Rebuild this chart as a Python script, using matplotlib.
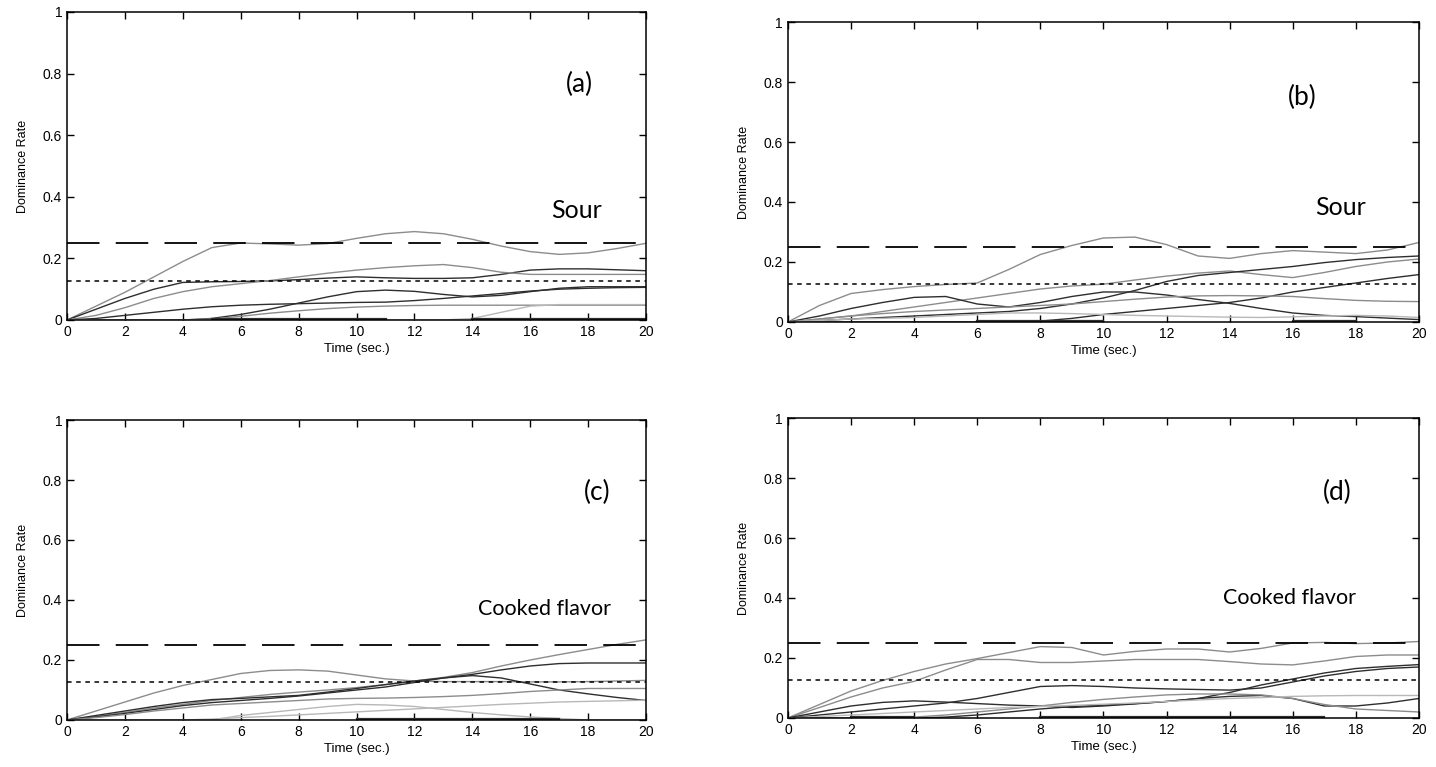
import numpy as np
import matplotlib.pyplot as plt

nan = np.nan
t = list(range(21))  # seconds

# ---- (a) Sour
a_g1 = [0, 0.045, 0.09, 0.14, 0.19, 0.235, 0.25, 0.247, 0.243, 0.248, 0.265, 0.28, 0.287, 0.28, 0.262, 0.24, 0.222, 0.213, 0.218, 0.232, 0.249]
a_d1 = [0, 0.035, 0.07, 0.1, 0.122, 0.124, 0.125, 0.127, 0.131, 0.136, 0.14, 0.137, 0.135, 0.135, 0.137, 0.148, 0.162, 0.166, 0.166, 0.163, 0.16]
a_g2 = [0, 0.015, 0.04, 0.07, 0.092, 0.108, 0.118, 0.128, 0.14, 0.152, 0.162, 0.17, 0.176, 0.18, 0.17, 0.155, 0.148, 0.148, 0.148, 0.148, 0.148]
a_d2 = [0, 0, 0, 0, 0, 0.005, 0.018, 0.035, 0.055, 0.075, 0.092, 0.097, 0.093, 0.083, 0.075, 0.08, 0.092, 0.103, 0.108, 0.108, 0.108]
a_d3 = [0, 0.005, 0.015, 0.025, 0.035, 0.043, 0.048, 0.051, 0.053, 0.055, 0.057, 0.058, 0.063, 0.07, 0.078, 0.086, 0.094, 0.1, 0.103, 0.105, 0.106]
a_g3 = [0, 0, 0, 0, 0, 0.003, 0.012, 0.022, 0.03, 0.037, 0.042, 0.045, 0.047, 0.048, 0.048, 0.048, 0.048, 0.048, 0.048, 0.048, 0.048]
a_l1 = [0, 0, 0, 0, 0, 0, 0, 0, 0, 0, 0, 0, 0, 0, 0.005, 0.025, 0.045, 0.05, 0.05, 0.05, 0.05]
a_z = [nan, nan, nan, nan, nan, 0.003, 0.003, 0.003, 0.003, 0.003, 0.003, 0.003, nan, nan, 0.003, 0.003, 0.003, 0.003, 0.003, 0.003, 0.003]

# ---- (b) Sour
b_g1 = [0, 0.055, 0.095, 0.108, 0.118, 0.125, 0.13, 0.175, 0.225, 0.255, 0.28, 0.283, 0.258, 0.22, 0.212, 0.228, 0.238, 0.233, 0.228, 0.24, 0.265]
b_g2 = [0, 0.01, 0.02, 0.035, 0.05, 0.065, 0.08, 0.095, 0.11, 0.12, 0.126, 0.14, 0.153, 0.163, 0.17, 0.158, 0.148, 0.165, 0.185, 0.2, 0.21]
b_d1 = [0, 0.005, 0.01, 0.015, 0.02, 0.025, 0.03, 0.035, 0.045, 0.06, 0.08, 0.105, 0.135, 0.155, 0.165, 0.175, 0.185, 0.198, 0.208, 0.215, 0.22]
b_d2 = [0, 0.02, 0.045, 0.065, 0.082, 0.085, 0.06, 0.05, 0.065, 0.085, 0.1, 0.1, 0.09, 0.075, 0.062, 0.045, 0.03, 0.022, 0.018, 0.013, 0.008]
b_d3 = [0, 0, 0, 0, 0, 0, 0, 0, 0.003, 0.012, 0.025, 0.035, 0.045, 0.055, 0.065, 0.08, 0.1, 0.115, 0.13, 0.145, 0.158]
b_g3 = [0, 0.01, 0.02, 0.028, 0.035, 0.04, 0.045, 0.05, 0.055, 0.06, 0.068, 0.076, 0.083, 0.087, 0.088, 0.087, 0.085, 0.078, 0.072, 0.069, 0.068]
b_l1 = [0, 0.005, 0.01, 0.012, 0.015, 0.02, 0.025, 0.03, 0.03, 0.028, 0.025, 0.022, 0.02, 0.018, 0.016, 0.015, 0.017, 0.02, 0.022, 0.02, 0.015]
b_z = [nan, nan, nan, nan, nan, nan, 0.003, 0.003, 0.003, 0.003, 0.003, nan, nan, nan, nan, nan, 0.003, 0.003, 0.003, nan, nan]

# ---- (c) Cooked flavor
c_g1 = [0, 0.03, 0.06, 0.09, 0.115, 0.135, 0.155, 0.165, 0.167, 0.163, 0.15, 0.137, 0.13, 0.128, 0.128, 0.128, 0.127, 0.127, 0.128, 0.13, 0.132]
c_g2 = [0, 0.012, 0.025, 0.04, 0.052, 0.065, 0.075, 0.085, 0.093, 0.1, 0.108, 0.118, 0.13, 0.142, 0.158, 0.18, 0.2, 0.218, 0.235, 0.252, 0.267]
c_d1 = [0, 0.015, 0.03, 0.045, 0.058, 0.068, 0.072, 0.077, 0.082, 0.093, 0.105, 0.118, 0.13, 0.14, 0.152, 0.167, 0.18, 0.188, 0.19, 0.19, 0.19]
c_d2 = [0, 0.01, 0.022, 0.035, 0.048, 0.058, 0.065, 0.072, 0.08, 0.09, 0.1, 0.11, 0.125, 0.14, 0.148, 0.14, 0.12, 0.1, 0.087, 0.075, 0.065]
c_g3 = [0, 0.008, 0.018, 0.03, 0.04, 0.05, 0.055, 0.06, 0.065, 0.07, 0.072, 0.073, 0.075, 0.078, 0.082, 0.088, 0.095, 0.1, 0.105, 0.105, 0.105]
c_l1 = [0, 0, 0, 0, 0, 0, 0.015, 0.025, 0.035, 0.045, 0.052, 0.05, 0.045, 0.035, 0.025, 0.017, 0.01, 0.005, 0, 0, 0]
c_l2 = [0, 0, 0, 0, 0, 0.003, 0.008, 0.012, 0.017, 0.022, 0.027, 0.032, 0.037, 0.042, 0.047, 0.052, 0.056, 0.06, 0.062, 0.064, 0.066]
c_z = [nan, nan, nan, nan, nan, nan, nan, nan, nan, nan, 0.003, 0.003, 0.003, 0.003, 0.003, 0.003, 0.003, 0.003, nan, nan, nan]

# ---- (d) Cooked flavor
d_g1 = [0, 0.045, 0.09, 0.125, 0.155, 0.18, 0.198, 0.218, 0.238, 0.235, 0.21, 0.222, 0.23, 0.23, 0.22, 0.232, 0.25, 0.252, 0.248, 0.25, 0.255]
d_g2 = [0, 0.035, 0.07, 0.1, 0.122, 0.16, 0.195, 0.195, 0.185, 0.185, 0.19, 0.195, 0.195, 0.195, 0.188, 0.18, 0.177, 0.19, 0.205, 0.21, 0.21]
d_d1 = [0, 0.01, 0.02, 0.03, 0.04, 0.05, 0.065, 0.085, 0.105, 0.108, 0.105, 0.1, 0.097, 0.095, 0.093, 0.1, 0.12, 0.14, 0.155, 0.165, 0.17]
d_d2 = [0, 0, 0, 0, 0, 0.003, 0.01, 0.02, 0.03, 0.038, 0.043, 0.048, 0.055, 0.065, 0.085, 0.11, 0.13, 0.15, 0.165, 0.172, 0.178]
d_d3 = [0, 0.02, 0.04, 0.052, 0.057, 0.053, 0.048, 0.043, 0.04, 0.035, 0.04, 0.047, 0.055, 0.065, 0.072, 0.075, 0.065, 0.04, 0.04, 0.05, 0.065]
d_g3 = [0, 0, 0, 0, 0.003, 0.01, 0.02, 0.03, 0.04, 0.052, 0.062, 0.07, 0.077, 0.08, 0.08, 0.077, 0.065, 0.045, 0.03, 0.025, 0.02]
d_l1 = [0, 0.005, 0.01, 0.015, 0.02, 0.025, 0.03, 0.035, 0.038, 0.042, 0.046, 0.05, 0.055, 0.06, 0.065, 0.068, 0.072, 0.074, 0.075, 0.075, 0.075]
d_z = [nan, nan, 0.003, 0.003, 0.003, nan, nan, nan, 0.003, 0.003, 0.003, 0.003, 0.003, 0.003, 0.003, 0.003, 0.003, 0.003, nan, nan, nan]

chance = 0.25        # dashed reference line
significance = 0.125  # dotted reference line

GRAY = '#8c8c8c'
DARK = '#2e2e2e'
LIGHT = '#b8b8b8'

panels = [
    # label, attribute, axes rect, label pos, attribute pos, attribute size, curves
    ('(a)', 'Sour', [0.0467, 0.5828, 0.4032, 0.4016], (17.7, 0.763), (17.6, 0.357), 18,
     [(a_g1, GRAY), (a_d1, DARK), (a_g2, GRAY), (a_d2, DARK), (a_d3, DARK), (a_g3, GRAY), (a_l1, LIGHT), (a_z, DARK)]),
    ('(b)', 'Sour', [0.5487, 0.5802, 0.4394, 0.3911], (16.3, 0.75), (17.5, 0.383), 18,
     [(b_g1, GRAY), (b_g2, GRAY), (b_d1, DARK), (b_d2, DARK), (b_d3, DARK), (b_g3, GRAY), (b_l1, LIGHT), (b_z, DARK)]),
    ('(c)', 'Cooked flavor', [0.0467, 0.0613, 0.4032, 0.3911], (18.3, 0.76), (16.5, 0.37), 15.5,
     [(c_g1, GRAY), (c_g2, GRAY), (c_d1, DARK), (c_d2, DARK), (c_g3, GRAY), (c_l1, LIGHT), (c_l2, LIGHT), (c_z, DARK)]),
    ('(d)', 'Cooked flavor', [0.5487, 0.0639, 0.4394, 0.3911], (17.4, 0.753), (15.9, 0.40), 15.5,
     [(d_g1, GRAY), (d_g2, GRAY), (d_d1, DARK), (d_d2, DARK), (d_d3, DARK), (d_g3, GRAY), (d_l1, LIGHT), (d_z, DARK)]),
]

plt.rcParams['font.family'] = ['Liberation Sans', 'DejaVu Sans']

fig = plt.figure(figsize=(14.36, 7.67), dpi=100)

for tag, attr, rect, tag_pos, attr_pos, attr_size, curves in panels:
    ax = fig.add_axes(rect)
    for vals, col in curves:
        lw = 1.6 if col == DARK and vals[0] is nan else 1.0
        ax.plot(t, vals, color=col, lw=lw)
    ax.axhline(chance, color='black', lw=1.3, dashes=(18, 9))
    ax.axhline(significance, color='black', lw=1.1, dashes=(3, 3))

    ax.set_xlim(0, 20)
    ax.set_ylim(0, 1)
    ax.set_xticks(range(0, 21, 2))
    ax.set_yticks([0, 0.2, 0.4, 0.6, 0.8, 1])
    ax.set_yticklabels(['0', '0.2', '0.4', '0.6', '0.8', '1'])
    ax.tick_params(direction='in', top=True, right=True, length=5, width=1, labelsize=10)
    for s in ax.spines.values():
        s.set_linewidth(1.1)
    ax.set_xlabel('Time (sec.)', fontsize=9.5, labelpad=3)
    ax.set_ylabel('Dominance Rate', fontsize=9, labelpad=10)

    ax.text(*tag_pos, tag, fontsize=19, ha='center', va='center', family='Lato')
    ax.text(*attr_pos, attr, fontsize=attr_size, ha='center', va='center', family='Lato')

fig.savefig('out.png', dpi=100)
